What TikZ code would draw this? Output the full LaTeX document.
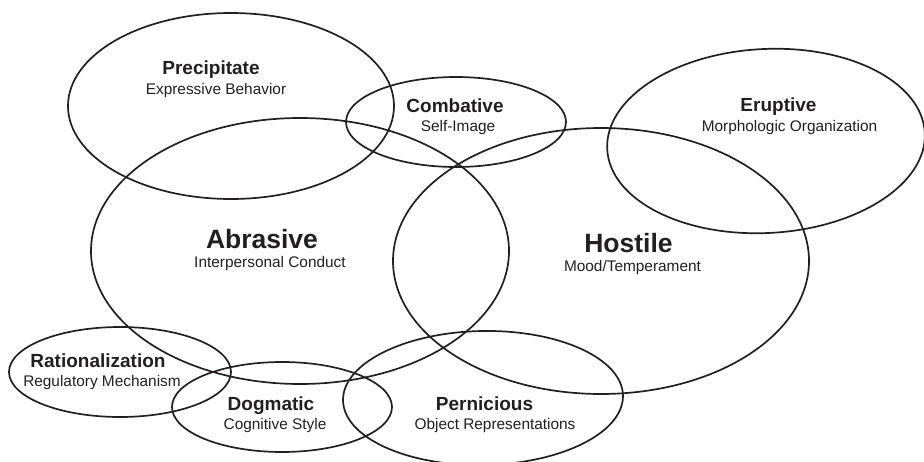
\documentclass[tikz,border=0pt]{standalone}
\usepackage{fontspec}
\setmainfont{Liberation Sans}
\definecolor{ink}{HTML}{231F20}
\begin{document}
\begin{tikzpicture}[x=1pt,y=-1pt,
  trait/.style={draw=ink, line width=1.7pt},
  captiontext/.style={text=ink, anchor=base, inner sep=0pt},
  traitname/.style={captiontext, font=\bfseries\fontsize{19}{19}\selectfont},
  bigname/.style={captiontext, font=\bfseries\fontsize{26.5}{26.5}\selectfont},
  areaname/.style={captiontext, font=\fontsize{15.4}{15.4}\selectfont}]
  \useasboundingbox (0,0) rectangle (924,461);
  \clip (0,0) rectangle (924,461);

  % personality domains as overlapping ellipses
  \draw[trait] (231,106) ellipse [x radius=163, y radius=93];
  \draw[trait] (456,122) ellipse [x radius=110, y radius=45];
  \draw[trait] (766,141) ellipse [x radius=159, y radius=92, rotate=3];
  \draw[trait] (300,251) ellipse [x radius=209, y radius=133];
  \draw[trait] (601,261) ellipse [x radius=208, y radius=133];
  \draw[trait] (120,372) ellipse [x radius=111, y radius=45];
  \draw[trait] (282,407) ellipse [x radius=110, y radius=45];
  \draw[trait] (483,398) ellipse [x radius=140, y radius=67, rotate=1];

  % trait names and their domains
  \node[traitname] (precipitate) at (211,74) {Precipitate};
  \node[areaname] (expressive) at (216,94) {Expressive Behavior};
  \node[traitname] (combative) at (455,112) {Combative};
  \node[areaname] (selfimage) at (458,131) {Self-Image};
  \node[traitname] (eruptive) at (778.5,111) {Eruptive};
  \node[areaname] (morpho) at (789.5,131) {Morphologic Organization};
  \node[bigname] (abrasive) at (262,248) {Abrasive};
  \node[areaname] (interpersonal) at (270,267) {Interpersonal Conduct};
  \node[bigname] (hostile) at (628.5,252) {Hostile};
  \node[areaname] (mood) at (632.5,271) {Mood/Temperament};
  \node[traitname] (rational) at (98,367) {Rationalization};
  \node[areaname] (regulatory) at (102,386) {Regulatory Mechanism};
  \node[traitname] (dogmatic) at (271,410) {Dogmatic};
  \node[areaname] (cognitive) at (275,429) {Cognitive Style};
  \node[traitname] (pernicious) at (484.5,410) {Pernicious};
  \node[areaname] (objrep) at (495,429) {Object Representations};
\end{tikzpicture}
\end{document}
